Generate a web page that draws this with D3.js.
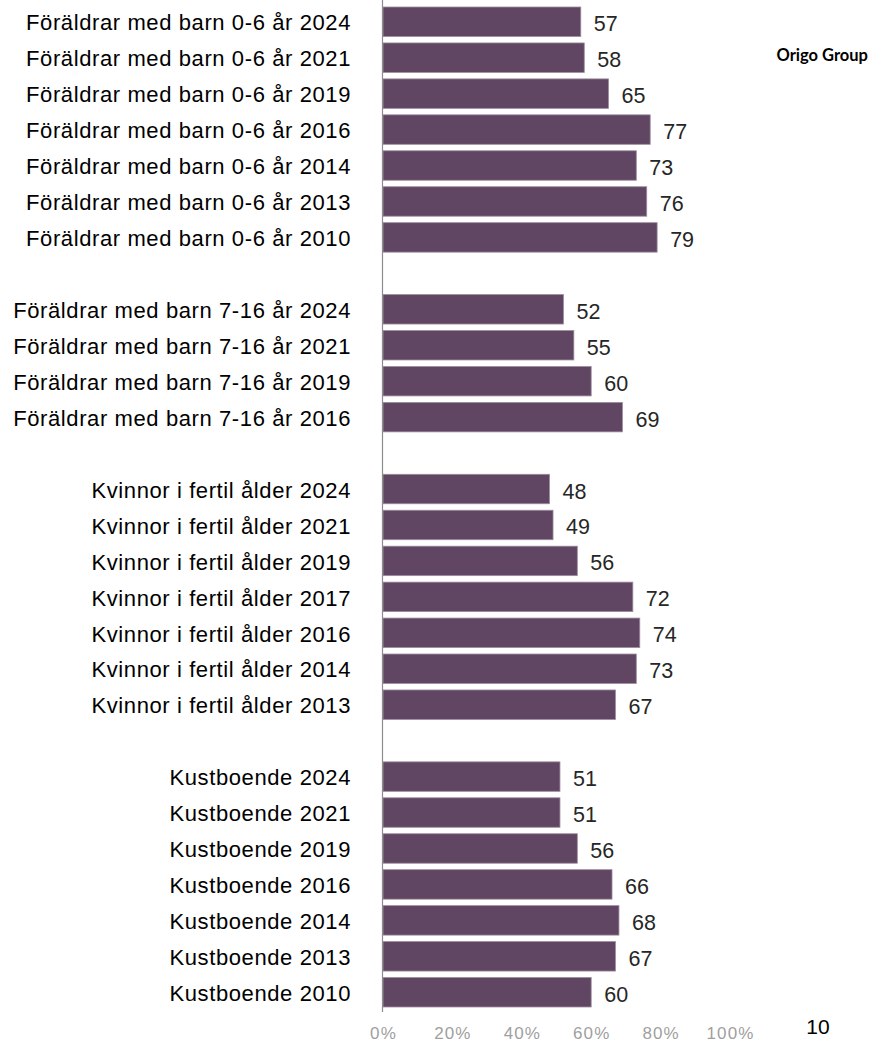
<!DOCTYPE html>
<html>
<head>
<meta charset="utf-8">
<script src="https://cdn.jsdelivr.net/npm/d3@7"></script>
<style>
  body { margin: 0; background: #fff; }
  svg { display: block; font-family: "Liberation Sans", Arial, sans-serif; }
</style>
</head>
<body>
<svg id="chart" width="889" height="1044"></svg>
<script>
// one slot per row, null = blank spacer row between groups
const labels = [
  "Föräldrar med barn 0-6 år 2024",
  "Föräldrar med barn 0-6 år 2021",
  "Föräldrar med barn 0-6 år 2019",
  "Föräldrar med barn 0-6 år 2016",
  "Föräldrar med barn 0-6 år 2014",
  "Föräldrar med barn 0-6 år 2013",
  "Föräldrar med barn 0-6 år 2010",
  null,
  "Föräldrar med barn 7-16 år 2024",
  "Föräldrar med barn 7-16 år 2021",
  "Föräldrar med barn 7-16 år 2019",
  "Föräldrar med barn 7-16 år 2016",
  null,
  "Kvinnor i fertil ålder 2024",
  "Kvinnor i fertil ålder 2021",
  "Kvinnor i fertil ålder 2019",
  "Kvinnor i fertil ålder 2017",
  "Kvinnor i fertil ålder 2016",
  "Kvinnor i fertil ålder 2014",
  "Kvinnor i fertil ålder 2013",
  null,
  "Kustboende 2024",
  "Kustboende 2021",
  "Kustboende 2019",
  "Kustboende 2016",
  "Kustboende 2014",
  "Kustboende 2013",
  "Kustboende 2010",
];
const values = [
  57, 58, 65, 77, 73, 76, 79,
  null,
  52, 55, 60, 69,
  null,
  48, 49, 56, 72, 74, 73, 67,
  null,
  51, 51, 56, 66, 68, 67, 60,
];
const xTicks = [0, 20, 40, 60, 80, 100];

const svg = d3.select("#chart");

const x = d3.scaleLinear().domain([0, 100]).range([383, 730]);
const y = d3.scaleBand()
  .domain(d3.range(labels.length))
  .range([7, 1007])
  .paddingInner(0.18)
  .paddingOuter(0);

const rows = labels.map((l, i) => ({ label: l, value: values[i], i: i }))
  .filter((d) => d.label !== null);

// bars
svg.append("g")
  .selectAll("rect")
  .data(rows)
  .join("rect")
  .attr("x", x(0))
  .attr("y", (d) => y(d.i))
  .attr("width", (d) => x(d.value) - x(0))
  .attr("height", y.bandwidth())
  .attr("fill", "#614663")
  .attr("stroke", "#9e8ca0")
  .attr("stroke-width", 0.8);

// category axis line
svg.append("line")
  .attr("x1", 382.5)
  .attr("x2", 382.5)
  .attr("y1", 0)
  .attr("y2", 1012)
  .attr("stroke", "#8c8c8c")
  .attr("stroke-width", 1.2);

// category labels
svg.append("g")
  .selectAll("text")
  .data(rows)
  .join("text")
  .attr("x", 351)
  .attr("y", (d) => y(d.i) + y.bandwidth() / 2 + 1)
  .attr("dy", "0.35em")
  .attr("text-anchor", "end")
  .attr("font-size", 22)
  .attr("letter-spacing", "0.6px")
  .attr("fill", "#000")
  .text((d) => d.label);

// value labels
svg.append("g")
  .selectAll("text")
  .data(rows)
  .join("text")
  .attr("x", (d) => x(d.value) + 13)
  .attr("y", (d) => y(d.i) + y.bandwidth() / 2 + 2)
  .attr("dy", "0.35em")
  .attr("font-size", 21.5)
  .attr("fill", "#262626")
  .text((d) => d.value);

// percent axis, no line
const xAxis = svg.append("g")
  .attr("transform", "translate(0,1023.5)")
  .call(d3.axisBottom(x).tickValues(xTicks).tickSize(0).tickFormat((d) => d + "%"));
xAxis.select(".domain").remove();
xAxis.selectAll("text")
  .attr("font-family", "\"Liberation Sans\", Arial, sans-serif")
  .attr("font-size", 17)
  .attr("fill", "#a0a0a0")
  .attr("letter-spacing", "1.1px");

// page number and logo
svg.append("text")
  .attr("x", 818)
  .attr("y", 1034)
  .attr("text-anchor", "middle")
  .attr("font-size", 21)
  .attr("fill", "#000")
  .text("10");

svg.append("text")
  .attr("x", 868)
  .attr("y", 61)
  .attr("text-anchor", "end")
  .attr("font-family", "Lato, \"Noto Sans\", sans-serif")
  .attr("font-weight", 700)
  .attr("font-size", 16.5)
  .attr("fill", "#000")
  .text("Origo Group");
</script>
</body>
</html>
